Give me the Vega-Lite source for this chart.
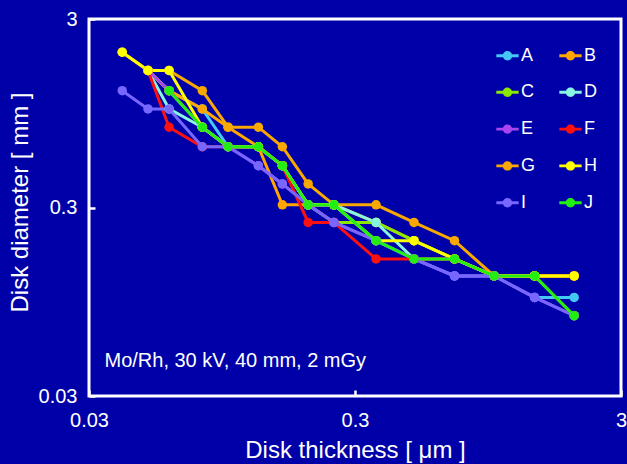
{
  "$schema": "https://vega.github.io/schema/vega-lite/v6.json",
  "width": 532,
  "height": 377,
  "autosize": {"type": "none"},
  "padding": {"left": 89, "top": 19, "right": 6, "bottom": 68},
  "background": "#0000a8",
  "config": {
    "view": {"stroke": "white", "strokeWidth": 3, "fill": "#0000a8"},
    "axis": {
      "domain": false,
      "grid": false,
      "labelColor": "white",
      "labelFont": "Liberation Sans",
      "labelFontSize": 20,
      "titleFont": "Liberation Sans",
      "titleFontSize": 24,
      "titleFontWeight": "normal",
      "titleColor": "white",
      "tickColor": "white",
      "tickWidth": 2.5,
      "tickSize": -6,
      "labelFlush": false,
      "labelOverlap": false
    },
    "legend": {
      "orient": "none",
      "legendX": 407,
      "legendY": 25,
      "columns": 2,
      "padding": 0,
      "symbolType": "M-1,-0.13H1V0.13H-1Z M0.42,0A0.42,0.42 0 1,1 -0.42,0A0.42,0.42 0 1,1 0.42,0Z",
      "symbolSize": 500,
      "symbolStrokeWidth": 0,
      "symbolOpacity": 1,
      "labelFont": "Liberation Sans",
      "labelFontSize": 18,
      "labelColor": "white",
      "labelOffset": 2,
      "rowPadding": 15.8,
      "columnPadding": 23
    }
  },
  "datasets": {
    "disks": [
      {"series": "A", "thickness": 0.05, "diameter": 1.6},
      {"series": "A", "thickness": 0.06, "diameter": 1.25},
      {"series": "A", "thickness": 0.08, "diameter": 1.0},
      {"series": "A", "thickness": 0.1, "diameter": 0.63},
      {"series": "A", "thickness": 0.13, "diameter": 0.63},
      {"series": "A", "thickness": 0.16, "diameter": 0.5},
      {"series": "A", "thickness": 0.2, "diameter": 0.31},
      {"series": "A", "thickness": 0.25, "diameter": 0.31},
      {"series": "A", "thickness": 0.36, "diameter": 0.2},
      {"series": "A", "thickness": 0.5, "diameter": 0.16},
      {"series": "A", "thickness": 0.71, "diameter": 0.13},
      {"series": "A", "thickness": 1.0, "diameter": 0.13},
      {"series": "A", "thickness": 1.42, "diameter": 0.1},
      {"series": "A", "thickness": 2.0, "diameter": 0.1},

      {"series": "B", "thickness": 0.05, "diameter": 1.6},
      {"series": "B", "thickness": 0.06, "diameter": 1.25},
      {"series": "B", "thickness": 0.08, "diameter": 1.0},
      {"series": "B", "thickness": 0.1, "diameter": 0.8},
      {"series": "B", "thickness": 0.13, "diameter": 0.63},
      {"series": "B", "thickness": 0.16, "diameter": 0.31},
      {"series": "B", "thickness": 0.2, "diameter": 0.31},
      {"series": "B", "thickness": 0.25, "diameter": 0.31},
      {"series": "B", "thickness": 0.36, "diameter": 0.25},
      {"series": "B", "thickness": 0.5, "diameter": 0.2},
      {"series": "B", "thickness": 0.71, "diameter": 0.16},
      {"series": "B", "thickness": 1.0, "diameter": 0.13},
      {"series": "B", "thickness": 1.42, "diameter": 0.13},
      {"series": "B", "thickness": 2.0, "diameter": 0.13},

      {"series": "C", "thickness": 0.05, "diameter": 1.6},
      {"series": "C", "thickness": 0.06, "diameter": 1.25},
      {"series": "C", "thickness": 0.08, "diameter": 0.8},
      {"series": "C", "thickness": 0.1, "diameter": 0.63},
      {"series": "C", "thickness": 0.13, "diameter": 0.63},
      {"series": "C", "thickness": 0.16, "diameter": 0.5},
      {"series": "C", "thickness": 0.2, "diameter": 0.31},
      {"series": "C", "thickness": 0.25, "diameter": 0.25},
      {"series": "C", "thickness": 0.36, "diameter": 0.25},
      {"series": "C", "thickness": 0.5, "diameter": 0.2},
      {"series": "C", "thickness": 0.71, "diameter": 0.16},
      {"series": "C", "thickness": 1.0, "diameter": 0.13},
      {"series": "C", "thickness": 1.42, "diameter": 0.13},
      {"series": "C", "thickness": 2.0, "diameter": 0.08},

      {"series": "D", "thickness": 0.05, "diameter": 1.6},
      {"series": "D", "thickness": 0.06, "diameter": 1.0},
      {"series": "D", "thickness": 0.08, "diameter": 0.8},
      {"series": "D", "thickness": 0.1, "diameter": 0.63},
      {"series": "D", "thickness": 0.13, "diameter": 0.63},
      {"series": "D", "thickness": 0.16, "diameter": 0.5},
      {"series": "D", "thickness": 0.2, "diameter": 0.31},
      {"series": "D", "thickness": 0.25, "diameter": 0.31},
      {"series": "D", "thickness": 0.36, "diameter": 0.25},
      {"series": "D", "thickness": 0.5, "diameter": 0.16},
      {"series": "D", "thickness": 0.71, "diameter": 0.16},
      {"series": "D", "thickness": 1.0, "diameter": 0.13},
      {"series": "D", "thickness": 1.42, "diameter": 0.13},
      {"series": "D", "thickness": 2.0, "diameter": 0.13},

      {"series": "E", "thickness": 0.05, "diameter": 1.6},
      {"series": "E", "thickness": 0.06, "diameter": 1.25},
      {"series": "E", "thickness": 0.08, "diameter": 0.8},
      {"series": "E", "thickness": 0.1, "diameter": 0.63},
      {"series": "E", "thickness": 0.13, "diameter": 0.5},
      {"series": "E", "thickness": 0.16, "diameter": 0.4},
      {"series": "E", "thickness": 0.2, "diameter": 0.31},
      {"series": "E", "thickness": 0.25, "diameter": 0.25},
      {"series": "E", "thickness": 0.36, "diameter": 0.2},
      {"series": "E", "thickness": 0.5, "diameter": 0.16},
      {"series": "E", "thickness": 0.71, "diameter": 0.13},
      {"series": "E", "thickness": 1.0, "diameter": 0.13},
      {"series": "E", "thickness": 1.42, "diameter": 0.1},
      {"series": "E", "thickness": 2.0, "diameter": 0.08},

      {"series": "F", "thickness": 0.05, "diameter": 1.6},
      {"series": "F", "thickness": 0.06, "diameter": 0.8},
      {"series": "F", "thickness": 0.08, "diameter": 0.63},
      {"series": "F", "thickness": 0.1, "diameter": 0.63},
      {"series": "F", "thickness": 0.13, "diameter": 0.63},
      {"series": "F", "thickness": 0.16, "diameter": 0.5},
      {"series": "F", "thickness": 0.2, "diameter": 0.25},
      {"series": "F", "thickness": 0.25, "diameter": 0.25},
      {"series": "F", "thickness": 0.36, "diameter": 0.16},
      {"series": "F", "thickness": 0.5, "diameter": 0.16},
      {"series": "F", "thickness": 0.71, "diameter": 0.16},
      {"series": "F", "thickness": 1.0, "diameter": 0.13},
      {"series": "F", "thickness": 1.42, "diameter": 0.13},
      {"series": "F", "thickness": 2.0, "diameter": 0.13},

      {"series": "G", "thickness": 0.04, "diameter": 2.0},
      {"series": "G", "thickness": 0.05, "diameter": 1.6},
      {"series": "G", "thickness": 0.06, "diameter": 1.6},
      {"series": "G", "thickness": 0.08, "diameter": 1.25},
      {"series": "G", "thickness": 0.1, "diameter": 0.8},
      {"series": "G", "thickness": 0.13, "diameter": 0.8},
      {"series": "G", "thickness": 0.16, "diameter": 0.63},
      {"series": "G", "thickness": 0.2, "diameter": 0.4},
      {"series": "G", "thickness": 0.25, "diameter": 0.31},
      {"series": "G", "thickness": 0.36, "diameter": 0.31},
      {"series": "G", "thickness": 0.5, "diameter": 0.25},
      {"series": "G", "thickness": 0.71, "diameter": 0.2},
      {"series": "G", "thickness": 1.0, "diameter": 0.13},
      {"series": "G", "thickness": 1.42, "diameter": 0.13},
      {"series": "G", "thickness": 2.0, "diameter": 0.13},

      {"series": "H", "thickness": 0.04, "diameter": 2.0},
      {"series": "H", "thickness": 0.05, "diameter": 1.6},
      {"series": "H", "thickness": 0.06, "diameter": 1.6},
      {"series": "H", "thickness": 0.08, "diameter": 0.8},
      {"series": "H", "thickness": 0.1, "diameter": 0.63},
      {"series": "H", "thickness": 0.13, "diameter": 0.63},
      {"series": "H", "thickness": 0.16, "diameter": 0.5},
      {"series": "H", "thickness": 0.2, "diameter": 0.31},
      {"series": "H", "thickness": 0.25, "diameter": 0.31},
      {"series": "H", "thickness": 0.36, "diameter": 0.2},
      {"series": "H", "thickness": 0.5, "diameter": 0.2},
      {"series": "H", "thickness": 0.71, "diameter": 0.16},
      {"series": "H", "thickness": 1.0, "diameter": 0.13},
      {"series": "H", "thickness": 1.42, "diameter": 0.13},
      {"series": "H", "thickness": 2.0, "diameter": 0.13},

      {"series": "I", "thickness": 0.04, "diameter": 1.25},
      {"series": "I", "thickness": 0.05, "diameter": 1.0},
      {"series": "I", "thickness": 0.06, "diameter": 1.0},
      {"series": "I", "thickness": 0.08, "diameter": 0.63},
      {"series": "I", "thickness": 0.1, "diameter": 0.63},
      {"series": "I", "thickness": 0.13, "diameter": 0.5},
      {"series": "I", "thickness": 0.16, "diameter": 0.4},
      {"series": "I", "thickness": 0.2, "diameter": 0.31},
      {"series": "I", "thickness": 0.25, "diameter": 0.25},
      {"series": "I", "thickness": 0.36, "diameter": 0.2},
      {"series": "I", "thickness": 0.5, "diameter": 0.16},
      {"series": "I", "thickness": 0.71, "diameter": 0.13},
      {"series": "I", "thickness": 1.0, "diameter": 0.13},
      {"series": "I", "thickness": 1.42, "diameter": 0.1},
      {"series": "I", "thickness": 2.0, "diameter": 0.08},

      {"series": "J", "thickness": 0.06, "diameter": 1.25},
      {"series": "J", "thickness": 0.08, "diameter": 0.8},
      {"series": "J", "thickness": 0.1, "diameter": 0.63},
      {"series": "J", "thickness": 0.13, "diameter": 0.63},
      {"series": "J", "thickness": 0.16, "diameter": 0.5},
      {"series": "J", "thickness": 0.2, "diameter": 0.31},
      {"series": "J", "thickness": 0.25, "diameter": 0.31},
      {"series": "J", "thickness": 0.36, "diameter": 0.2},
      {"series": "J", "thickness": 0.5, "diameter": 0.16},
      {"series": "J", "thickness": 0.71, "diameter": 0.16},
      {"series": "J", "thickness": 1.0, "diameter": 0.13},
      {"series": "J", "thickness": 1.42, "diameter": 0.13},
      {"series": "J", "thickness": 2.0, "diameter": 0.08}
    ],
    "note": [
      {"thickness": 0.0343, "diameter": 0.0427, "text": "Mo/Rh, 30 kV, 40 mm, 2 mGy"}
    ]
  },
  "layer": [
    {
      "data": {"name": "disks"},
      "mark": {"type": "line", "strokeWidth": 3, "clip": true},
      "encoding": {
        "x": {
          "field": "thickness", "type": "quantitative",
          "scale": {"type": "log", "domain": [0.03, 3], "nice": false},
          "axis": {"values": [0.03, 0.3, 3], "format": "~g", "title": "Disk thickness [ μm ]", "labelPadding": 20, "titlePadding": 8}
        },
        "y": {
          "field": "diameter", "type": "quantitative",
          "scale": {"type": "log", "domain": [0.03, 3], "nice": false},
          "axis": {"values": [0.03, 0.3, 3], "format": "~g", "title": "Disk diameter [ mm ]", "labelPadding": 18, "titlePadding": 6, "titleY": 183}
        },
        "color": {
          "field": "series", "type": "nominal",
          "scale": {
            "domain": ["A", "B", "C", "D", "E", "F", "G", "H", "I", "J"],
            "range": ["#44c8f5", "#ffa500", "#88e800", "#88f5e0", "#aa44ee", "#ff1010", "#f8a800", "#ffff00", "#7766ff", "#22ee11"]
          },
          "title": null,
          "legend": {"values": ["A", "C", "E", "G", "I", "B", "D", "F", "H", "J"]}
        }
      }
    },
    {
      "data": {"name": "disks"},
      "mark": {"type": "point", "filled": true, "size": 90, "opacity": 1},
      "encoding": {
        "x": {"field": "thickness", "type": "quantitative"},
        "y": {"field": "diameter", "type": "quantitative"},
        "color": {
          "field": "series", "type": "nominal", "title": null,
          "legend": {"values": ["A", "C", "E", "G", "I", "B", "D", "F", "H", "J"]}
        }
      }
    },
    {
      "data": {"name": "note"},
      "mark": {"type": "text", "align": "left", "baseline": "alphabetic", "font": "Liberation Sans", "fontSize": 20, "color": "white"},
      "encoding": {
        "x": {"field": "thickness", "type": "quantitative"},
        "y": {"field": "diameter", "type": "quantitative"},
        "text": {"field": "text"}
      }
    }
  ]
}
